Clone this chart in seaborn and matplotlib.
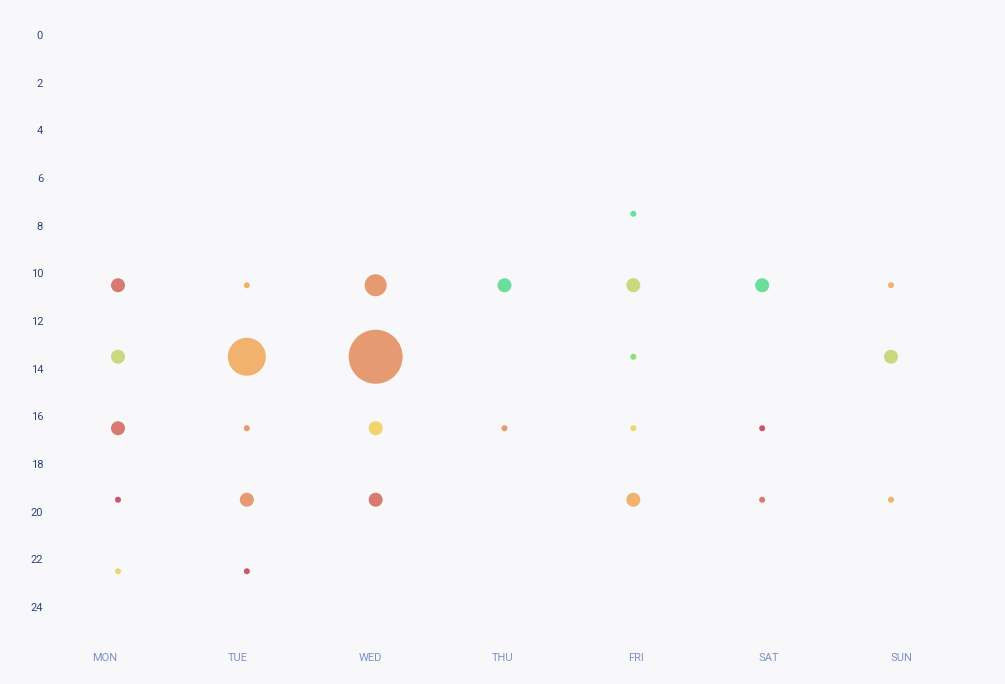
import matplotlib
matplotlib.use("Agg")
import matplotlib.pyplot as plt
import seaborn as sns
import pandas as pd

days = ["MON", "TUE", "WED", "THU", "FRI", "SAT", "SUN"]
hour_ticks = [0, 2, 4, 6, 8, 10, 12, 14, 16, 18, 20, 22, 24]

# each point: day index, hour, count, mood (colour category)
point_day = [0, 0, 0, 0, 0,
             1, 1, 1, 1, 1,
             2, 2, 2, 2,
             3, 3,
             4, 4, 4, 4, 4,
             5, 5, 5,
             6, 6, 6]
point_hour = [10.5, 13.5, 16.5, 19.5, 22.5,
              10.5, 13.5, 16.5, 19.5, 22.5,
              10.5, 13.5, 16.5, 19.5,
              10.5, 16.5,
              7.5, 10.5, 13.5, 16.5, 19.5,
              10.5, 16.5, 19.5,
              10.5, 13.5, 19.5]
point_count = [2, 2, 2, 1, 1,
               1, 5, 1, 2, 1,
               3, 7, 2, 2,
               2, 1,
               1, 2, 1, 1, 2,
               2, 1, 1,
               1, 2, 1]
point_mood = [1, 5, 1, 0, 4,
              3, 3, 2, 2, 0,
              2, 2, 4, 1,
              7, 2,
              7, 5, 6, 4, 3,
              7, 0, 1,
              3, 5, 3]

df = pd.DataFrame({"day": point_day, "hour": point_hour,
                   "count": point_count, "mood": point_mood})

palette = {0: "#cb566b", 1: "#d67a72", 2: "#e59a72", 3: "#f0b26d",
           4: "#f0d56c", 5: "#c9da7e", 6: "#8edc7e", 7: "#6bde9c"}
dpi = 100
size_map = {c: ((8 * c - 2) * 72 / dpi) ** 2 for c in sorted(set(point_count))}

bg = "#f8f8fb"
fig = plt.figure(figsize=(10.05, 6.84), dpi=dpi, facecolor=bg)
W, H = 1005, 684
left_px, right_px, top_px, bottom_px = 55, 960, 35, 645
ax = fig.add_axes([left_px / W, 1 - bottom_px / H,
                   (right_px - left_px) / W, (bottom_px - top_px) / H])
ax.set_facecolor(bg)

sns.scatterplot(data=df, x="day", y="hour", size="count", sizes=size_map,
                hue="mood", palette=palette, linewidth=0, alpha=1.0,
                legend=False, ax=ax, clip_on=False)

unit = 128.83
ax.set_xlim(-(118 - left_px) / unit, 6 + (right_px - 891) / unit)
ax.set_ylim(24 + (bottom_px - 607) / 23.83, 0)

tick_pos = [-0.101 + 1.0298 * i for i in range(len(days))]
ax.set_xticks(tick_pos)
ax.set_xticklabels(days)
ax.set_yticks(hour_ticks)
ax.set_yticklabels([str(h) for h in hour_ticks])

for s in ax.spines.values():
    s.set_visible(False)
ax.tick_params(axis="both", length=0)
ax.tick_params(axis="x", pad=5.5, labelsize=8, labelcolor="#7d92c9")
ax.tick_params(axis="y", pad=8.6, labelsize=8, labelcolor="#2f4579")
for t in ax.get_xticklabels() + ax.get_yticklabels():
    t.set_fontfamily("Roboto")
ax.set_xlabel("")
ax.set_ylabel("")
ax.grid(False)

fig.savefig("out.png", dpi=dpi, facecolor=bg)
